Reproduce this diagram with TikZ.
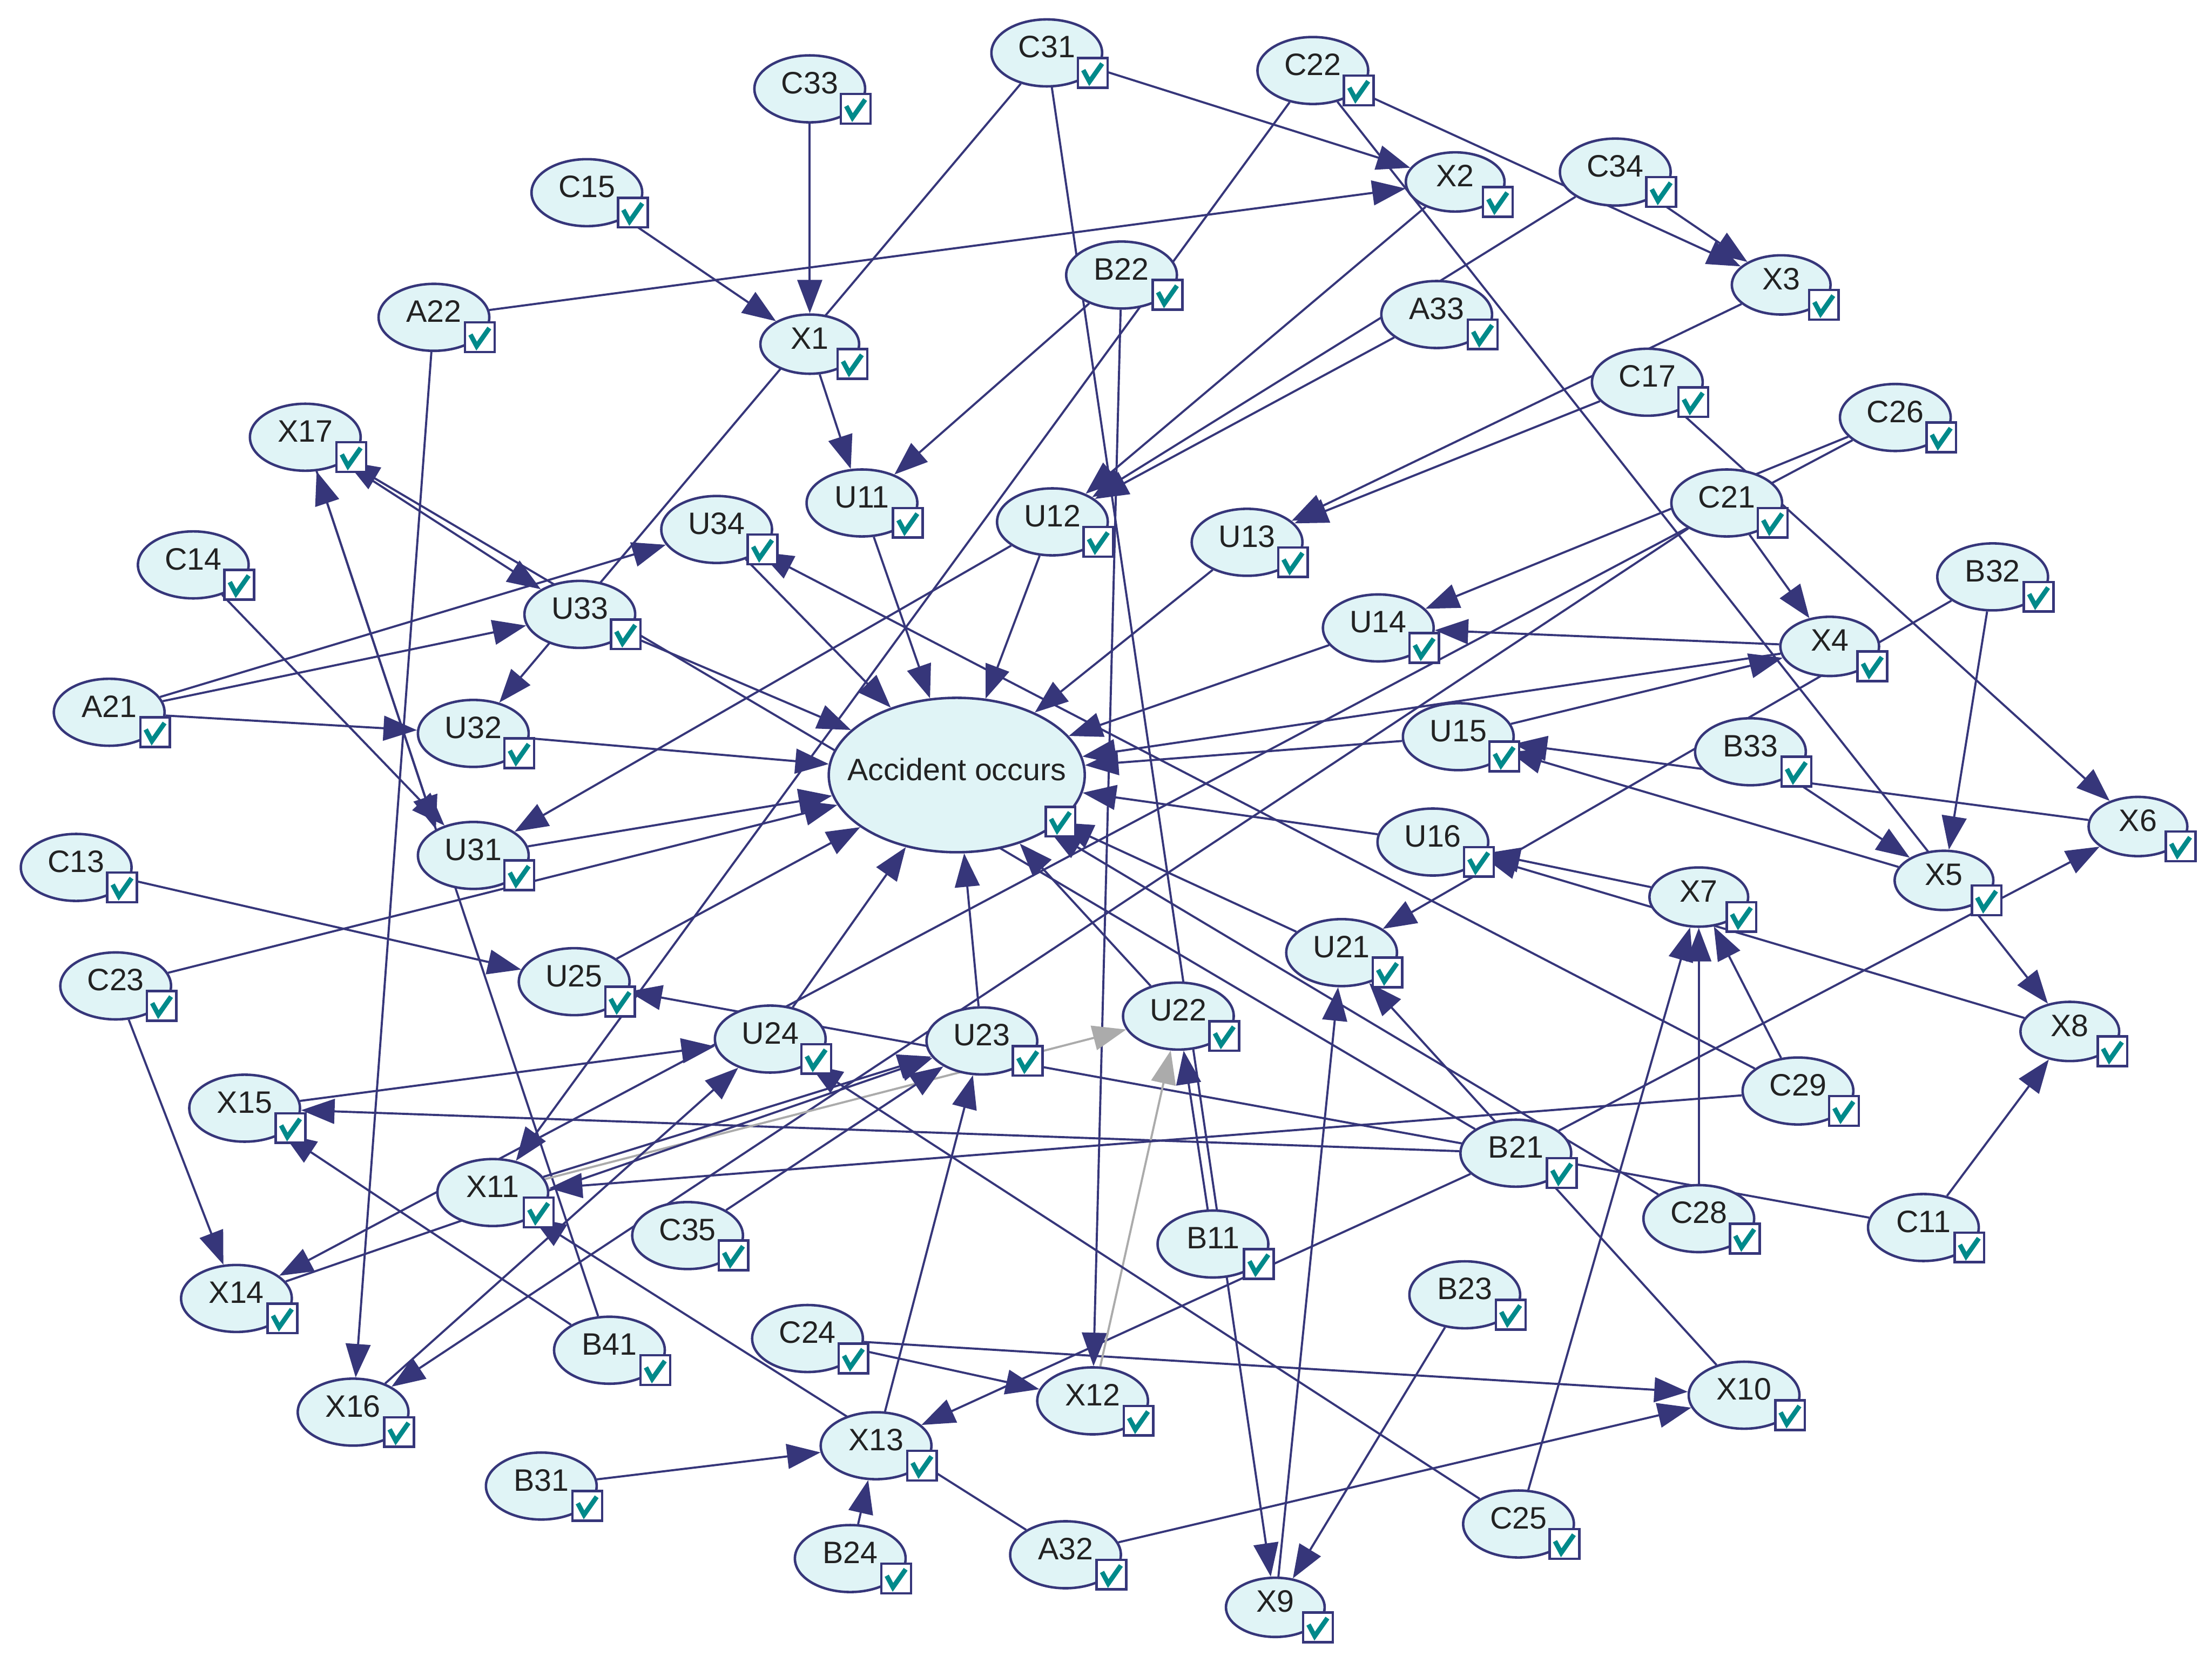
\documentclass[tikz,border=0pt]{standalone}
\usepackage{fontspec}
\setmainfont{Liberation Sans}
\usepackage{xcolor}
\usetikzlibrary{shapes.geometric, arrows.meta, calc, backgrounds}

\definecolor{nodeline}{HTML}{36367A}
\definecolor{nodefill}{HTML}{E0F4F6}
\definecolor{linkgrey}{HTML}{ABABAB}
\definecolor{okteal}{HTML}{00898A}
\definecolor{labeltext}{HTML}{222222}

\begin{document}
\begin{tikzpicture}[
    x=0.02cm, y=-0.02cm,
    cnode/.style={ellipse, draw=nodeline, line width=1pt, fill=nodefill, minimum width=1.57cm, minimum height=0.95cm, inner sep=1pt, text=labeltext, text depth=0.17cm, font=\fontsize{12.5}{14}\selectfont},
    xnode/.style={cnode, minimum width=1.4cm, minimum height=0.84cm},
    mainnode/.style={cnode, inner xsep=-0.3cm, minimum width=3.63cm, minimum height=2.19cm},
    arrow/.style={draw=nodeline, line width=0.85pt, -{Triangle[length=13.5pt, width=10pt]}},
    greyarrow/.style={arrow, draw=linkgrey},
    okbox/.pic={
        \draw[nodeline, line width=1pt, fill=white] (0,0) rectangle (21,21);
        \draw[okteal, line width=1.9pt] (3.8,8.6) -- (8.2,16.8) -- (17.2,4);
    }
]
\useasboundingbox (0,0) rectangle (1568,1179);

\node[cnode] (C31) at (742,37.5) {C31};
\node[cnode] (C33) at (574,63) {C33};
\node[cnode] (C22) at (930.6,50) {C22};
\node[cnode] (C34) at (1145,122) {C34};
\node[xnode] (X2) at (1031.5,129) {X2};
\node[cnode] (C15) at (416,136.6) {C15};
\node[xnode] (X3) at (1262.6,202) {X3};
\node[cnode] (B22) at (795,195) {B22};
\node[cnode] (A22) at (307.6,225) {A22};
\node[cnode] (A33) at (1018.4,223) {A33};
\node[xnode] (X1) at (574,244) {X1};
\node[cnode] (C17) at (1167.7,271) {C17};
\node[cnode] (C26) at (1343.5,296) {C26};
\node[cnode] (X17) at (216.4,310) {X17};
\node[cnode] (U11) at (611,356.6) {U11};
\node[cnode] (U12) at (746,370) {U12};
\node[cnode] (U13) at (884,384.5) {U13};
\node[cnode] (C21) at (1224,356.6) {C21};
\node[cnode] (U34) at (508,375.4) {U34};
\node[cnode] (C14) at (137,400.5) {C14};
\node[cnode] (B32) at (1412.5,409) {B32};
\node[cnode] (U33) at (411,435.6) {U33};
\node[cnode] (U14) at (977,445.2) {U14};
\node[xnode] (X4) at (1297,458.3) {X4};
\node[cnode] (A21) at (77.4,505) {A21};
\node[cnode] (U32) at (335.5,520) {U32};
\node[cnode] (U15) at (1033.7,522.3) {U15};
\node[cnode] (B33) at (1240.8,533) {B33};
\node[mainnode] (acc) at (678.2,549.5) {Accident occurs};
\node[xnode] (X6) at (1515.5,586) {X6};
\node[cnode] (U16) at (1015.7,597) {U16};
\node[cnode] (U31) at (335.5,606.5) {U31};
\node[cnode] (C13) at (54,615) {C13};
\node[xnode] (X5) at (1378,624.2) {X5};
\node[xnode] (X7) at (1204.2,636) {X7};
\node[cnode] (U21) at (951,675.4) {U21};
\node[cnode] (C23) at (82,699) {C23};
\node[cnode] (U25) at (407,696) {U25};
\node[xnode] (X8) at (1467.2,731.3) {X8};
\node[cnode] (U24) at (546,736.7) {U24};
\node[cnode] (U23) at (696,738) {U23};
\node[cnode] (U22) at (835.3,720.4) {U22};
\node[cnode] (C29) at (1274.5,773.5) {C29};
\node[cnode] (X15) at (173.4,785.7) {X15};
\node[cnode] (B21) at (1074.5,817.6) {B21};
\node[cnode] (X11) at (349.3,845.5) {X11};
\node[cnode] (C28) at (1204.2,864) {C28};
\node[cnode] (C11) at (1363.4,870.3) {C11};
\node[cnode] (C35) at (487.4,876) {C35};
\node[cnode] (B11) at (859.8,882) {B11};
\node[cnode] (X14) at (167.6,920.6) {X14};
\node[cnode] (B23) at (1038.3,918) {B23};
\node[cnode] (B41) at (432,957.3) {B41};
\node[cnode] (C24) at (572.4,949) {C24};
\node[cnode] (X10) at (1236.3,989.2) {X10};
\node[cnode] (X12) at (774.5,993.2) {X12};
\node[cnode] (X16) at (250.3,1001.2) {X16};
\node[cnode] (X13) at (621,1025) {X13};
\node[cnode] (B31) at (383.7,1053.6) {B31};
\node[cnode] (C25) at (1076.4,1080.5) {C25};
\node[cnode] (A32) at (755.3,1102.3) {A32};
\node[cnode] (B24) at (602.7,1105) {B24};
\node[xnode] (X9) at (904,1139.6) {X9};
\coordinate (U31top) at (309,588);

\begin{scope}[on background layer]
\fill[white] (0,0) rectangle (1568,1179);

\draw[arrow] (C33) -- (X1);
\draw[arrow] (C15) -- (X1);
\draw[arrow] (C31) -- (U32);
\draw[arrow] (C31) -- (X2);
\draw[arrow] (C31) -- (X9);
\draw[arrow] (C22) -- (X11);
\draw[arrow] (C22) -- (X8);
\draw[arrow] (C22) -- (X3);
\draw[arrow] (C34) -- (X3);
\draw[arrow] (C34) -- (U12);
\draw[arrow] (A33) -- (U12);
\draw[arrow] (X2) -- (U12);
\draw[arrow] (A22) -- (X2);
\draw[arrow] (A22) -- (X16);
\draw[arrow] (X1) -- (U11);
\draw[arrow] (B22) -- (U11);
\draw[arrow] (B22) -- (X12);
\draw[arrow] (X3) -- (U13);
\draw[arrow] (C17) -- (U13);
\draw[arrow] (C17) -- (X6);
\draw[arrow] (C26) -- (U14);
\draw[arrow] (C26) -- (X14);
\draw[arrow] (C21) -- (X4);
\draw[arrow] (C21) -- (X16);
\draw[arrow] (X4) -- (U14);
\draw[arrow] (U15) -- (X4);
\draw[arrow] (X4) -- (acc);
\draw[arrow] (B32) -- (U21);
\draw[arrow] (B32) -- (X5);
\draw[arrow] (B33) -- (X5);
\draw[arrow] (X6) -- (U15);
\draw[arrow] (X5) -- (U15);
\draw[arrow] (B21) -- (X6);
\draw[arrow] (C25) -- (X7);
\draw[arrow] (C28) -- (X7);
\draw[arrow] (C29) -- (X7);
\draw[arrow] (X7) -- (U16);
\draw[arrow] (X8) -- (U16);
\draw[arrow] (X10) -- (U21);
\draw[arrow] (X9) -- (U21);
\draw[arrow] (U21) -- (acc);
\draw[arrow] (U16) -- (acc);
\draw[arrow] (U15) -- (acc);
\draw[arrow] (U14) -- (acc);
\draw[arrow] (U13) -- (acc);
\draw[arrow] (U12) -- (acc);
\draw[arrow] (U11) -- (acc);
\draw[arrow] (U34) -- (acc);
\draw[arrow] (U33) -- (acc);
\draw[arrow] (U22) -- (acc);
\draw[arrow] (U23) -- (acc);
\draw[arrow] (U24) -- (acc);
\draw[arrow] (U25) -- (acc);
\draw[arrow] (C23) -- (acc);
\draw[arrow] (U31) -- (acc);
\draw[arrow] (U32) -- (acc);
\draw[arrow] (C28) -- (acc);
\draw[arrow] (C29) -- (U34);
\draw[arrow] (B21) -- (X17);
\draw[arrow] (X17) -- (U33);
\draw[arrow] (B41) -- (X17);
\draw[arrow] (X17) -- (U31top);
\draw[arrow] (C11) -- (U25);
\draw[arrow] (C11) -- (X8);
\draw[arrow] (B21) -- (X15);
\draw[arrow] (B21) -- (X13);
\draw[arrow] (X13) -- (U23);
\draw[arrow] (B31) -- (X13);
\draw[arrow] (B24) -- (X13);
\draw[arrow] (A32) -- (X11);
\draw[arrow] (A32) -- (X10);
\draw[arrow] (C24) -- (X10);
\draw[arrow] (C24) -- (X12);
\draw[arrow] (B11) -- (U22);
\draw[arrow] (B23) -- (X9);
\draw[greyarrow] (X12) -- (U22);
\draw[greyarrow] (X11) -- (U22);
\draw[arrow] (C35) -- (U23);
\draw[arrow] (X11) -- (U23);
\draw[arrow] (X14) -- (U23);
\draw[arrow] (X16) -- (U24);
\draw[arrow] (X15) -- (U24);
\draw[arrow] (C25) -- (U24);
\draw[arrow] (C13) -- (U25);
\draw[arrow] (B41) -- (X15);
\draw[arrow] (C23) -- (X14);
\draw[arrow] (A21) -- (U34);
\draw[arrow] (A21) -- (U33);
\draw[arrow] (A21) -- (U32);
\draw[arrow] (C14) -- (U31);
\draw[arrow] (U12) -- (U31);
\draw[arrow] (C29) -- (X11);
\end{scope}

\foreach \n in {C31,C33,C22,C34,X2,C15,X3,B22,A22,A33,X1,C17,C26,X17,U11,U12,U13,C21,U34,C14,B32,U33,U14,X4,A21,U32,U15,B33,X6,U16,U31,C13,X5,X7,U21,C23,U25,X8,U24,U23,U22,C29,X15,B21,X11,C28,C11,C35,B11,X14,B23,B41,C24,X10,X12,X16,X13,B31,C25,A32,B24,X9}
    \pic at ($(\n.center)!0.55!(\n.east)+(0,3.6)$) {okbox};
\pic at ($(acc.center)+(63,22.5)$) {okbox};

\end{tikzpicture}
\end{document}
